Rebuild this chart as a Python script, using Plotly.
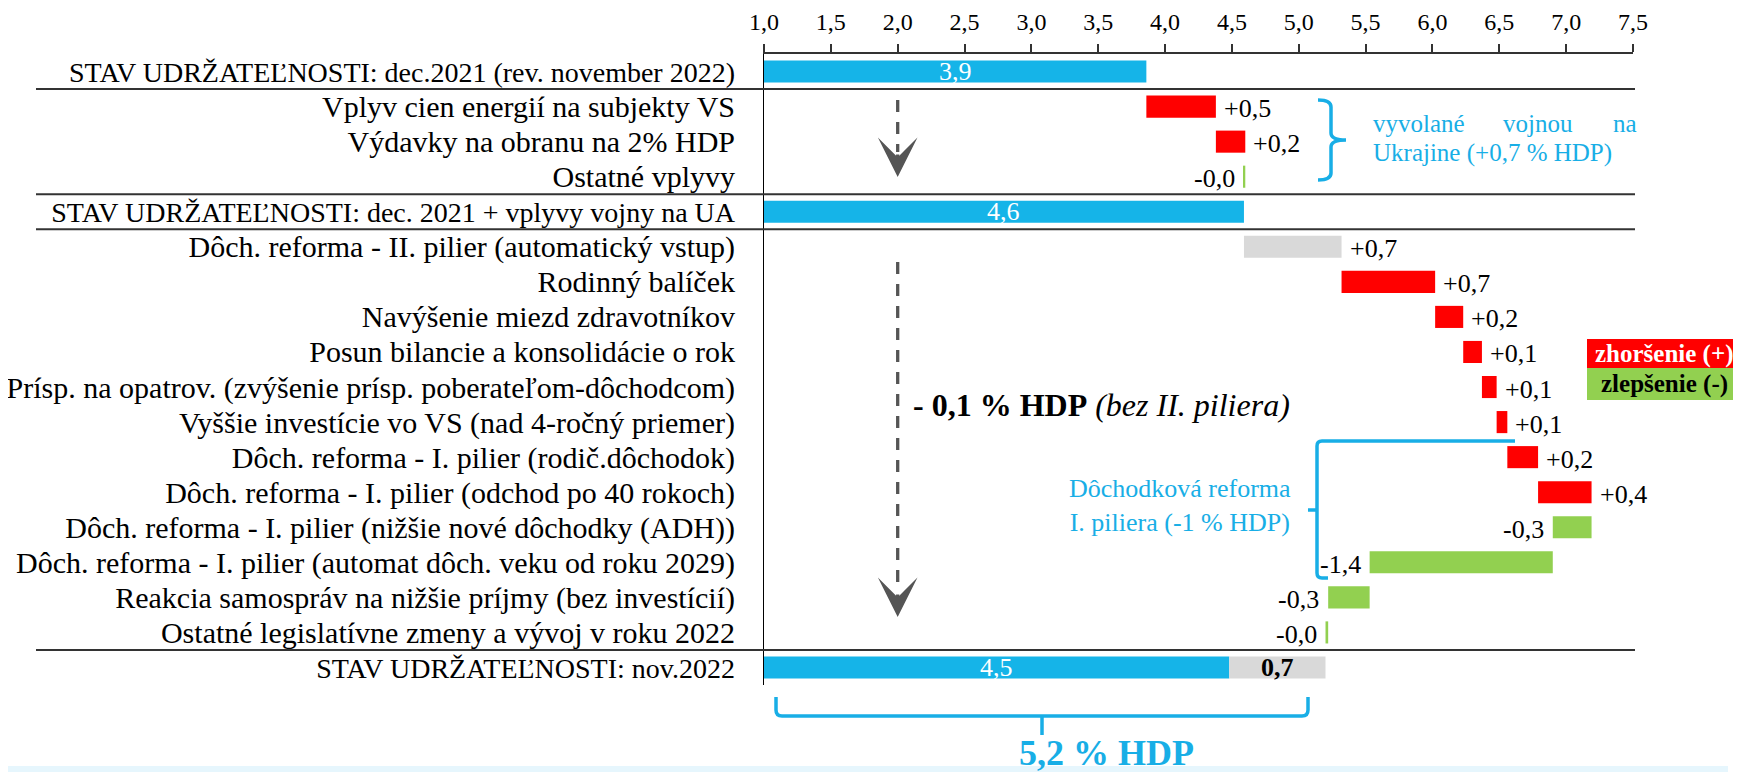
import plotly.graph_objects as go

# ---------------- data ----------------
categories = [
    "STAV UDRŽATEĽNOSTI: dec.2021 (rev. november 2022)",
    "Vplyv cien energií na subjekty VS",
    "Výdavky na obranu na 2% HDP",
    "Ostatné vplyvy",
    "STAV UDRŽATEĽNOSTI: dec. 2021 + vplyvy vojny na UA",
    "Dôch. reforma - II. pilier (automatický vstup)",
    "Rodinný balíček",
    "Navýšenie miezd zdravotníkov",
    "Posun bilancie a konsolidácie o rok",
    "Prísp. na opatrov. (zvýšenie prísp. poberateľom-dôchodcom)",
    "Vyššie investície vo VS (nad 4-ročný priemer)",
    "Dôch. reforma - I. pilier (rodič.dôchodok)",
    "Dôch. reforma - I. pilier (odchod po 40 rokoch)",
    "Dôch. reforma - I. pilier (nižšie nové dôchodky (ADH))",
    "Dôch. reforma - I. pilier (automat dôch. veku od roku 2029)",
    "Reakcia samospráv na nižšie príjmy (bez investícií)",
    "Ostatné legislatívne zmeny a vývoj v roku 2022",
    "STAV UDRŽATEĽNOSTI: nov.2022",
]
row_kind = ["total", "delta", "delta", "delta", "total", "pillar2", "delta", "delta",
            "delta", "delta", "delta", "delta", "delta", "delta", "delta", "delta",
            "delta", "total"]
values = [3.86, 0.52, 0.22, -0.01, 4.59, 0.73, 0.70, 0.21, 0.14, 0.11, 0.08,
          0.23, 0.40, -0.29, -1.37, -0.31, -0.02, 4.48]
value_labels = ["3,9", "+0,5", "+0,2", "-0,0", "4,6", "+0,7", "+0,7", "+0,2", "+0,1",
                "+0,1", "+0,1", "+0,2", "+0,4", "-0,3", "-1,4", "-0,3", "-0,0", "4,5"]
final_pillar2 = 0.72
final_pillar2_label = "0,7"
x_ticks = [1.0, 1.5, 2.0, 2.5, 3.0, 3.5, 4.0, 4.5, 5.0, 5.5, 6.0, 6.5, 7.0, 7.5]

# ---------------- style ----------------
BLUE = "#15B4E8"
RED = "#FF0000"
GREEN = "#92D050"
GRAY = "#D9D9D9"
ABLUE = "#18AEE6"
DARK = "#333333"
FONT = "Liberation Serif, Times New Roman, serif"

OFF = 8                      # page body margin in the rendered html
PAGE_W, PAGE_H = 1741, 772
W, H = PAGE_W - OFF, PAGE_H - OFF
PL, PR, PT, PB = 764, 1633, 54, 685   # plot area in page pixels
XMIN, XMAX = 1.0, 7.5
NROW = len(categories)


def xd(p):
    return XMIN + (p - PL) / (PR - PL) * (XMAX - XMIN)


def yd(p):
    return -0.5 + (p - PT) / (PB - PT) * NROW


def xpp(p):
    return (p - PL) / (PR - PL)


def ypp(p):
    return (PB - p) / (PB - PT)


# ---------------- waterfall geometry from data ----------------
bases, lengths, colors = [], [], []
running = 0.0
for kind, v in zip(row_kind, values):
    if kind == "total":
        bases.append(0.0)
        lengths.append(v)
        colors.append(BLUE)
        running = v
    else:
        b = running if v >= 0 else running + v
        bases.append(b)
        lengths.append(abs(v))
        colors.append(GRAY if kind == "pillar2" else (RED if v > 0 else GREEN))
        running += v

rows = list(range(NROW))
fig = go.Figure()
fig.add_trace(go.Bar(
    y=rows, x=lengths, base=bases, orientation="h",
    marker=dict(color=colors, line=dict(width=0)), width=0.63,
    hoverinfo="skip",
))
fig.add_trace(go.Bar(
    y=[NROW - 1], x=[final_pillar2], base=[values[-1]], orientation="h",
    marker=dict(color=GRAY, line=dict(width=0)), width=0.63, hoverinfo="skip",
))

annotations = []
for i, (kind, v, b, l, lab) in enumerate(zip(row_kind, values, bases, lengths, value_labels)):
    if kind == "total":
        annotations.append(dict(x=(XMIN + b + l) / 2, y=i, text=lab, showarrow=False,
                                xanchor="center", yanchor="middle",
                                font=dict(family=FONT, size=26, color="white")))
    elif v >= 0:
        annotations.append(dict(x=b + l, y=i, text=lab, showarrow=False, xanchor="left",
                                yanchor="middle", xshift=6, yshift=-2,
                                font=dict(family=FONT, size=26, color="black")))
    else:
        annotations.append(dict(x=b, y=i, text=lab, showarrow=False, xanchor="right",
                                yanchor="middle", xshift=-7, yshift=-2,
                                font=dict(family=FONT, size=26, color="black")))
annotations.append(dict(x=values[-1] + final_pillar2 / 2, y=NROW - 1,
                        text="<b>" + final_pillar2_label + "</b>", showarrow=False,
                        xanchor="center", yanchor="middle",
                        font=dict(family=FONT, size=26, color="black")))

# arrowheads
for tip in (177, 617):
    annotations.append(dict(x=2.0, y=yd(tip), ax=0, ay=-24, text="", showarrow=True,
                            arrowhead=3, arrowsize=2.0, arrowwidth=3.3, arrowcolor="#555555",
                            standoff=0))


def ptext(x, y, text, size, color, xanchor="center", align="center"):
    return dict(xref="paper", yref="paper", x=xpp(x), y=ypp(y), text=text,
                showarrow=False, xanchor=xanchor, yanchor="middle", align=align,
                font=dict(family=FONT, size=size, color=color))


annotations += [
    ptext(1371, 123, "vyvolané", 25, ABLUE, "left"),
    ptext(1538, 123, "vojnou", 25, ABLUE, "center"),
    ptext(1639, 123, "na", 25, ABLUE, "right"),
    ptext(1371, 153, "Ukrajine (+0,7 % HDP)", 25, ABLUE, "left"),
    ptext(1180, 505, "Dôchodková reforma<br>I. piliera (-1 % HDP)", 26, ABLUE, "center"),
    ptext(911, 405, "<b>- 0,1 % HDP</b> <i>(bez II. piliera)</i>", 32, "black", "left"),
    ptext(1106, 753, "<b>5,2 % HDP</b>", 36, ABLUE, "center"),
    ptext(1664, 353.5, "<b>zhoršenie (+)</b>", 25, "white", "center"),
    ptext(1664, 384, "<b>zlepšenie (-)</b>", 25, "black", "center"),
]

shapes = []
# separators
for ysep in (0.5, 3.5, 4.5, NROW - 1.5):
    shapes.append(dict(type="line", xref="paper", yref="y", x0=xpp(36), x1=xpp(1635),
                       y0=ysep, y1=ysep, line=dict(color=DARK, width=2)))
# dashed arrow stems
for top, bot in ((100, 152), (262, 592)):
    shapes.append(dict(type="line", xref="x", yref="y", x0=2.0, x1=2.0, y0=yd(top), y1=yd(bot),
                       line=dict(color="#555555", width=3.3, dash="12px,10px")))


def P(x, y):
    return f"{xd(x):.4f},{yd(y):.4f}"


def Q(x, y):
    return f"{xpp(x):.5f},{ypp(y):.5f}"


# right curly brace (war effects)
x0, x1, x2 = 1318, 1331, 1346
yt, ym, yb = 100, 140, 180
r = 7
brace1 = (f"M{P(x0, yt)} Q{P(x1, yt)} {P(x1, yt + r)} L{P(x1, ym - r)} "
          f"Q{P(x1, ym)} {P(x2, ym)} Q{P(x1, ym)} {P(x1, ym + r)} "
          f"L{P(x1, yb - r)} Q{P(x1, yb)} {P(x0, yb)}")
shapes.append(dict(type="path", xref="x", yref="y", path=brace1,
                   line=dict(color=ABLUE, width=3.5)))
# left bracket (pension reform I. pillar)
brace2 = (f"M{P(1515, 441)} L{P(1322, 441)} Q{P(1317, 441)} {P(1317, 446)} "
          f"L{P(1317, 573)} Q{P(1317, 578)} {P(1322, 578)} L{P(1328, 578)} "
          f"M{P(1317, 510)} L{P(1308, 510)}")
shapes.append(dict(type="path", xref="x", yref="y", path=brace2,
                   line=dict(color=ABLUE, width=3.5)))
# bottom brace (outside the plot area -> paper coordinates)
brace3 = (f"M{Q(776, 697)} L{Q(776, 710)} Q{Q(776, 716)} {Q(782, 716)} "
          f"L{Q(1302, 716)} Q{Q(1308, 716)} {Q(1308, 710)} L{Q(1308, 697)} "
          f"M{Q(1042, 716)} L{Q(1042, 735)}")
shapes.append(dict(type="path", xref="paper", yref="paper", path=brace3,
                   line=dict(color=ABLUE, width=3.5)))

# legend boxes
shapes.append(dict(type="rect", xref="paper", yref="paper", x0=xpp(1587), x1=xpp(1745),
                   y0=ypp(368), y1=ypp(339), fillcolor=RED, line=dict(width=0)))
shapes.append(dict(type="rect", xref="paper", yref="paper", x0=xpp(1587), x1=xpp(1745),
                   y0=ypp(400), y1=ypp(368), fillcolor=GREEN, line=dict(width=0)))
# bottom band and right edge line
shapes.append(dict(type="rect", xref="paper", yref="paper", x0=xpp(0), x1=xpp(1728),
                   y0=ypp(774), y1=ypp(766), fillcolor="#E6F6FD", line=dict(width=0),
                   layer="below"))
shapes.append(dict(type="line", xref="paper", yref="paper", x0=xpp(1738), x1=xpp(1738),
                   y0=ypp(774), y1=ypp(575), line=dict(color="#17B4EA", width=4)))

# upper-case "STAV" rows are set slightly smaller (condensed caps in the original)
tick_text = [f'<span style="font-size:28px">{c}</span>' if c.startswith("STAV") else c
             for c in categories]

fig.update_layout(
    width=W, height=H,
    margin=dict(l=PL - OFF, r=W - (PR - OFF), t=PT - OFF, b=H - (PB - OFF), pad=0,
                autoexpand=False),
    paper_bgcolor="white", plot_bgcolor="white",
    showlegend=False, barmode="overlay",
    separators=", ",
    font=dict(family=FONT, color="black"),
    xaxis=dict(range=[XMIN, XMAX], side="top", tickvals=x_ticks, tickformat=".1f",
               ticks="outside", ticklen=8, tickwidth=1.5, tickcolor=DARK,
               showline=True, linecolor=DARK, linewidth=2, showgrid=False, zeroline=False,
               ticklabelstandoff=4,
               tickfont=dict(family=FONT, size=24, color="black"), fixedrange=True),
    yaxis=dict(range=[NROW - 0.5, -0.5], tickvals=rows, ticktext=tick_text,
               ticks="", showline=True, linecolor="black", linewidth=1, showgrid=False,
               zeroline=False, ticklabelstandoff=22,
               tickfont=dict(family=FONT, size=30, color="black"), fixedrange=True),
    annotations=annotations,
    shapes=shapes,
)

fig.write_html("out.html")
